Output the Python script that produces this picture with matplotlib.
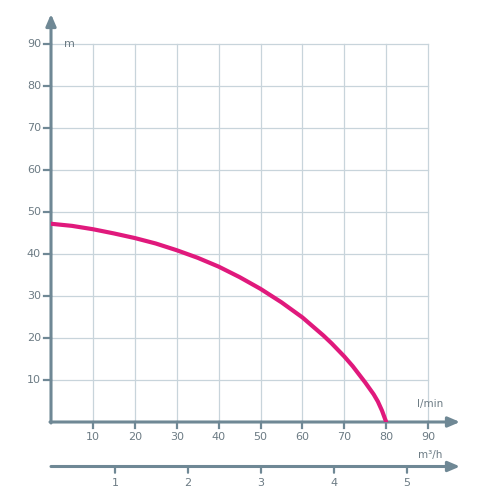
import matplotlib.pyplot as plt
import numpy as np

# pump curve
flow_lmin = [0, 5, 10, 15, 20, 25, 30, 35, 40, 45, 50, 55, 60, 65, 67, 70, 72, 75, 77, 78, 79, 80]
head_m = [47.2, 46.7, 45.9, 44.9, 43.8, 42.5, 40.9, 39.1, 37.0, 34.5, 31.7, 28.5, 24.9, 20.6,
          18.7, 15.6, 13.3, 9.4, 6.6, 4.9, 2.7, 0.0]

x_ticks = [10, 20, 30, 40, 50, 60, 70, 80, 90]
y_ticks = [10, 20, 30, 40, 50, 60, 70, 80, 90]
m3h_ticks = [1, 2, 3, 4, 5]

axis_col = '#6f8895'
grid_col = '#c8d4db'
text_col = '#6c7b84'
curve_col = '#e0197c'

fig = plt.figure(figsize=(5, 5), dpi=100)

# main axes: pixel coords of the reference, y=0 at 422, x=0 at 51
px_x = 4.19
px_y = 4.2
ax = fig.add_axes([51 / 500, 78 / 500, 409 / 500, 408 / 500])
ax.set_xlim(0, 409 / px_x)
ax.set_ylim(0, 408 / px_y)
ax.axis('off')

for v in x_ticks:
    ax.plot([v, v], [0, 90], color=grid_col, lw=0.9, zorder=1)
    ax.plot([v, v], [0, -6 / px_y], color=axis_col, lw=1.6, clip_on=False, zorder=3)
    ax.text(v, -15 / px_y, str(v), color=text_col, fontsize=8, ha='center', va='center')
for v in y_ticks:
    ax.plot([0, 90], [v, v], color=grid_col, lw=0.9, zorder=1)
    ax.plot([-7 / px_x, 0], [v, v], color=axis_col, lw=1.6, clip_on=False, zorder=3)
    ax.text(-10 / px_x, v, str(v), color=text_col, fontsize=8, ha='right', va='center')

ax.plot(flow_lmin, head_m, color=curve_col, lw=3.0, solid_capstyle='round',
        solid_joinstyle='round', zorder=4)

arrow = dict(arrowstyle='-|>,head_length=0.7,head_width=0.3', color=axis_col, lw=2.2,
             shrinkA=0, shrinkB=0)
ax.annotate('', xy=(409 / px_x, 0), xytext=(-1 / px_x, 0), arrowprops=arrow,
            zorder=3, annotation_clip=False)
ax.annotate('', xy=(0, 408 / px_y), xytext=(0, -1 / px_y), arrowprops=arrow,
            zorder=3, annotation_clip=False)

ax.text(3, 90, 'm', color=text_col, fontsize=8, ha='left', va='center')
ax.text(90.5, 3, 'l/min', color=text_col, fontsize=7.5, ha='center', va='bottom')

# secondary flow axis in m3/h
px_m = 73.0
ax2 = fig.add_axes([51 / 500, 31 / 500, 409 / 500, 0.01])
x0 = (51 - 42) / px_m
ax2.set_xlim(x0, x0 + 409 / px_m)
ax2.set_ylim(-1, 1)
ax2.axis('off')
ax2.annotate('', xy=(x0 + 409 / px_m, 0), xytext=(x0, 0), arrowprops=arrow,
             annotation_clip=False)
for v in m3h_ticks:
    ax2.annotate('', xy=(v, 0), xycoords='data', xytext=(0, -4.5), textcoords='offset points',
                 arrowprops=dict(arrowstyle='-', color=axis_col, lw=1.6, shrinkA=0, shrinkB=0))
    ax2.annotate(str(v), xy=(v, 0), xytext=(0, -12), textcoords='offset points',
                 color=text_col, fontsize=8, ha='center', va='center')
ax2.annotate('m³/h', xy=(x0 + 367 / px_m, 0), xytext=(0, 5), textcoords='offset points',
             color=text_col, fontsize=7.5, ha='left', va='bottom')

fig.savefig('out.png', dpi=100)
